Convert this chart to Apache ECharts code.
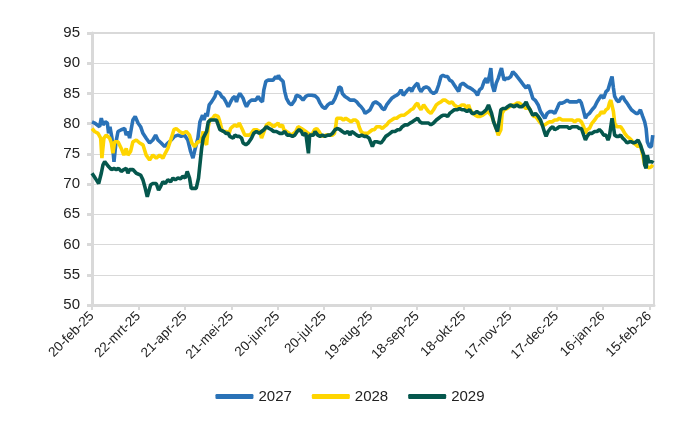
<!DOCTYPE html>
<html>
<head>
<meta charset="utf-8">
<script src="https://cdn.jsdelivr.net/npm/echarts@6/dist/echarts.min.js"></script>
<style>
html,body{margin:0;padding:0;background:#fff;}
#chart{width:700px;height:430px;}
</style>
</head>
<body>
<div id="chart"></div>
<script>
// x = days since 20-feb-25
const tickDays = [0, 30, 60, 90, 120, 150, 180, 210, 240, 270, 300, 330, 360];
const tickLabels = ['20-feb-25','22-mrt-25','21-apr-25','21-mei-25','20-jun-25','20-jul-25','19-aug-25','18-sep-25','18-okt-25','17-nov-25','17-dec-25','16-jan-26','15-feb-26'];
const seriesNames = ['2027', '2028', '2029'];

const days2027 = [0,1.7,2.8,4.9,6.0,7.1,8.6,9.9,10.7,11.6,12.9,14.2,15.5,16.8,18.9,21.1,22.1,23.2,24.3,25.4,26.4,27.9,29.7,31.4,32.9,35.0,37.2,39.3,41.1,42.6,44.7,46.9,49.0,51.2,53.3,55.5,57.6,59.8,61.9,63.7,65.2,66.7,68.4,
69.7,71.4,72.3,73.6,74.4,75.7,77.2,78.3,79.4,80.4,81.5,82.6,83.7,85.2,86.5,88.0,89.5,90.8,92.3,93.3,94.4,95.5,96.6,97.6,98.7,99.8,101.5,103.0,104.1,105.8,107.3,108.8,110.1,111.0,112.3,113.8,115.3,117.0,118.7,119.6,120.4,121.3,122.4,123.4,124.5,125.6,127.3,128.8,129.9,131.0,132.0,133.1,134.2,135.3,136.3,138.1,139.6,141.9,
144.1,145.8,147.3,148.8,150.5,152.3,153.8,155.3,157.0,158.7,159.6,160.9,161.7,163.4,165.2,166.7,167.7,169.5,171.0,172.5,173.8,175.3,176.4,178.1,179.6,180.6,181.7,183.2,184.5,186.0,187.5,188.8,190.3,191.8,193.6,195.3,196.8,198.3,199.6,201.1,202.2,203.9,205.4,206.5,207.5,209.0,210.3,211.2,212.5,
214.2,215.9,217.4,218.9,220.6,222.4,223.9,225.4,226.7,228.2,229.7,231.0,232.5,234.0,235.3,236.8,237.9,239.6,241.1,242.6,244.3,246.0,247.5,249.0,250.3,251.8,253.3,254.6,255.5,256.8,257.6,258.5,259.8,261.1,262.4,263.7,264.5,265.4,266.2,267.5,269.0,270.5,271.8,272.7,274.0,275.5,277.0,278.7,280.4,281.9,283.4,284.7,
286.5,288.2,289.7,291.2,292.5,294.0,295.5,297.2,298.9,300.4,301.9,303.7,305.4,306.9,308.4,310.1,311.8,313.3,314.8,316.1,317.6,318.7,319.8,321.3,323.0,324.7,326.2,327.7,329.0,330.5,332.0,333.3,334.2,335.1,335.9,336.8,337.6,338.9,340.2,341.5,342.8,344.1,345.6,347.1,348.4,349.9,351.4,352.7,354.2,355.7,357.0,357.9,358.7,360.0,361.3,362.2];
const vals2027 = [80.3,80.1,79.8,79.5,80.9,79.8,80.3,80.1,78.4,79.5,77.6,73.7,77.0,78.7,79.0,79.2,78.1,78.7,77.6,79.2,80.6,81.2,80.1,79.5,78.4,77.6,76.8,77.3,78.1,77.3,76.8,76.2,76.8,77.3,77.9,78.1,77.9,78.1,77.3,75.4,74.3,75.9,77.6,
80.3,81.4,80.6,81.7,81.2,83.1,83.6,83.6,84.5,85.3,85.6,85.0,84.5,84.2,83.6,82.8,83.6,84.2,84.5,83.6,84.5,85.0,85.3,84.2,83.4,82.8,83.6,83.9,84.2,83.9,84.5,83.9,83.6,85.6,87.0,87.2,87.2,87.2,87.8,87.4,88.0,87.5,87.5,87.0,85.3,84.2,83.4,83.1,82.8,83.9,84.7,85.0,84.5,84.2,83.9,84.5,84.7,84.7,
84.6,84.2,83.4,82.8,82.5,83.1,83.4,83.4,84.2,85.3,86.1,85.9,85.0,84.5,84.2,83.9,84.2,83.9,83.6,83.1,82.8,82.3,81.7,82.0,82.3,82.5,83.4,83.6,83.4,83.1,82.5,82.3,83.1,83.6,84.2,84.5,84.7,85.0,85.6,84.7,85.0,85.6,85.9,85.3,85.9,86.4,86.7,85.9,85.3,
85.9,86.1,85.9,85.3,85.0,85.3,86.4,87.8,88.0,87.8,87.8,87.2,87.0,86.4,85.9,85.3,86.4,86.7,86.4,86.1,85.9,85.6,85.3,84.7,85.6,85.9,87.0,87.5,86.7,88.0,89.2,86.4,85.3,86.7,87.5,88.6,89.2,88.0,87.2,87.5,87.5,87.8,88.6,88.9,88.0,87.5,87.0,86.4,85.9,86.4,85.3,84.2,
83.8,83.1,82.0,81.4,80.9,81.7,82.0,82.0,81.7,82.5,83.4,83.4,83.6,83.9,83.6,83.6,83.6,83.6,83.9,83.4,82.0,80.9,81.4,81.7,82.3,82.8,83.6,84.2,84.7,84.2,85.3,85.6,86.4,87.2,87.8,85.9,84.5,83.9,83.6,84.2,84.5,83.9,83.4,82.8,82.3,82.0,81.7,81.7,82.3,81.2,80.3,79.2,77.0,76.2,76.2,78.1];

const days2028 = [0,1.7,3.9,5.6,6.4,7.7,9.2,10.3,11.4,12.5,13.5,14.6,16.8,18.9,20.6,22.1,23.2,24.9,26.4,28.6,30.8,32.9,35.0,37.2,39.3,41.5,43.7,45.8,47.3,49.0,51.2,52.9,54.4,56.6,58.7,60.9,63.0,64.5,66.2,68.4,
69.7,70.8,71.8,72.9,74.0,75.1,76.1,77.9,79.4,80.4,81.5,82.6,83.7,84.7,85.8,86.9,88.6,89.5,90.8,92.3,93.8,95.1,95.9,97.2,98.7,99.8,101.5,103.0,104.5,106.2,108.4,109.5,110.5,111.6,112.7,114.4,115.9,117.4,118.7,120.2,121.3,123.0,123.9,125.6,127.3,128.8,129.9,131.6,133.1,134.2,135.3,136.3,138.1,139.6,140.6,
141.9,143.7,145.2,146.7,148.0,149.5,151.0,152.7,153.8,155.3,156.6,157.4,158.1,159.1,160.9,162.4,163.9,165.6,167.3,168.8,170.3,171.6,172.5,173.8,175.3,176.4,178.1,179.6,181.1,182.4,183.9,185.0,186.0,187.5,188.8,190.3,191.8,193.6,195.3,196.8,198.3,200.0,201.7,203.2,204.7,206.0,207.5,209.0,210.3,211.2,212.5,
214.2,215.9,217.4,218.9,220.6,222.4,223.9,225.4,226.7,228.2,229.7,231.0,232.5,234.0,235.7,237.4,238.9,240.4,242.2,243.2,244.3,246.0,247.5,249.0,250.7,252.5,254.0,255.5,256.8,258.3,259.8,261.1,262.4,263.2,264.1,264.9,266.2,268.0,269.7,271.2,272.7,274.4,276.1,277.6,279.1,280.4,281.9,283.4,285.2,
286.5,288.2,289.7,291.2,292.5,294.0,295.5,297.2,298.9,300.4,301.9,303.7,305.4,306.9,308.4,310.1,311.8,313.3,314.8,316.1,317.6,318.7,319.8,321.3,323.0,324.7,326.2,327.7,329.0,330.5,332.0,333.3,334.2,335.1,335.9,336.8,337.6,338.9,340.2,341.5,342.8,344.1,345.6,347.1,348.4,349.9,351.4,352.7,354.2,355.7,357.0,358.5,360.0,361.3,362.2];
const vals2028 = [79.2,78.7,78.4,77.6,74.3,77.6,78.1,78.4,77.6,76.8,75.1,77.0,77.0,75.9,74.8,75.9,74.8,75.4,77.0,77.3,76.8,76.5,74.8,74.0,74.8,74.3,74.8,74.3,75.1,75.9,77.6,79.0,79.2,78.7,78.4,78.7,78.1,76.8,76.2,77.0,
77.0,77.6,78.7,77.0,76.5,79.5,80.6,80.9,81.4,81.7,81.2,80.3,79.2,78.7,78.4,78.7,78.4,79.2,79.5,79.8,79.5,80.1,79.8,79.0,78.1,77.9,78.1,78.4,79.0,79.0,78.7,77.6,77.9,79.0,79.8,80.1,79.8,79.5,79.8,80.1,79.5,79.8,79.0,78.7,78.4,78.1,78.1,78.7,79.5,79.8,79.2,79.0,78.7,78.4,78.4,
78.1,79.0,79.2,78.7,78.1,77.9,78.1,78.1,78.4,78.1,78.4,79.5,80.9,81.2,80.9,80.6,80.9,80.6,80.3,80.6,80.6,80.3,79.5,78.7,78.4,78.1,78.4,78.7,79.0,79.0,79.5,79.8,79.5,79.2,79.5,79.8,80.3,80.6,80.9,80.9,81.2,81.4,81.4,81.7,82.0,82.3,82.5,83.1,83.4,82.8,82.3,
83.1,82.5,82.0,81.7,82.3,83.1,83.4,83.6,83.9,83.9,83.6,83.4,83.6,83.1,82.8,82.8,83.1,83.1,82.5,83.1,82.3,81.7,81.4,81.2,81.2,81.4,81.7,82.0,81.7,81.2,80.1,79.2,78.1,77.9,79.0,81.7,82.3,82.5,82.8,83.1,83.1,83.4,83.4,83.1,82.8,82.5,82.8,82.0,81.2,
81.2,80.6,80.1,79.8,79.8,80.1,80.3,80.3,80.6,80.6,80.9,80.6,80.6,80.6,80.6,80.6,80.3,80.6,80.6,80.3,79.5,78.4,79.0,79.2,80.1,80.6,81.2,81.4,82.0,81.7,82.3,82.5,83.4,83.9,84.2,82.0,80.1,79.5,79.5,79.5,79.0,78.4,77.9,77.6,77.3,76.8,76.5,76.2,76.5,74.8,73.2,72.9,72.7,72.9,73.2];

const days2029 = [0,1.3,2.8,4.3,6.0,7.1,8.2,9.2,10.7,12.5,14.2,15.7,17.2,18.9,20.6,22.1,23.2,24.3,26.4,27.5,28.6,29.7,31.4,32.9,34.4,35.7,36.6,37.9,39.3,41.5,43.0,44.3,45.8,47.3,49.0,50.8,52.3,53.8,55.5,57.2,58.7,60.2,61.5,63.0,64.1,65.8,67.3,68.8,
69.7,70.8,71.8,72.9,74.0,75.1,76.6,78.3,79.4,80.4,81.5,82.6,83.7,85.2,86.5,88.0,89.0,90.1,91.2,92.3,93.8,95.1,96.6,97.6,99.4,100.9,101.9,103.0,104.5,106.2,108.0,109.5,111.0,112.7,114.4,115.9,117.4,119.1,120.2,121.3,123.0,124.5,126.0,127.7,129.5,131.0,132.5,133.8,135.3,136.3,138.1,138.9,139.8,140.6,
143.0,144.1,145.8,147.3,148.8,150.5,152.3,153.8,155.3,157.0,158.7,160.2,161.7,163.4,165.2,166.7,167.7,169.5,171.0,172.5,174.2,175.9,177.4,179.0,180.2,181.1,182.4,183.9,185.0,186.7,188.2,189.7,191.0,192.5,194.0,195.7,197.4,198.9,200.4,202.2,203.9,205.4,206.9,208.6,210.3,211.8,213.3,
214.2,215.9,217.4,218.9,220.6,222.4,223.9,225.4,226.7,228.2,229.7,231.0,232.5,234.0,235.7,237.4,238.9,240.4,242.2,243.9,245.4,246.9,248.6,250.3,251.8,253.3,254.6,256.1,257.2,258.1,259.4,260.6,261.9,262.8,264.1,265.4,266.9,268.4,270.1,271.2,272.7,274.4,276.1,277.6,279.1,280.4,281.7,283.0,284.7,
286.5,288.2,289.7,291.2,292.5,293.3,294.6,296.1,297.6,298.9,300.4,301.9,303.7,305.4,306.9,308.4,310.1,311.8,313.3,314.8,316.1,317.6,318.7,319.8,321.3,323.0,324.7,326.2,327.7,329.0,330.5,332.0,333.3,334.2,335.1,335.9,336.8,337.6,338.9,340.2,341.5,342.8,344.1,345.6,347.1,348.4,349.9,351.4,352.7,354.2,355.3,356.4,357.0,357.9,358.7,359.6,360.6,361.7,362.6];
const vals2029 = [71.8,71.3,70.7,70.1,71.8,73.2,73.7,73.5,72.9,72.4,72.6,72.4,72.6,72.1,72.4,72.6,71.8,72.4,72.4,72.4,71.8,72.1,71.5,70.7,69.3,67.9,68.2,69.9,70.1,70.1,69.0,69.6,70.4,70.1,70.7,70.4,71.0,70.7,71.0,70.9,71.3,71.0,72.1,71.0,69.3,69.3,69.3,71.0,
71.0,75.9,77.6,77.6,78.7,80.3,80.6,80.6,80.9,80.6,79.8,79.0,78.7,78.7,78.4,78.4,77.9,78.1,77.6,78.1,77.9,77.9,77.6,76.8,76.5,76.8,77.0,77.6,78.4,78.7,78.4,78.7,79.0,79.5,79.2,79.0,78.7,78.7,79.0,78.4,78.4,78.7,78.1,78.1,77.9,78.1,78.7,79.0,78.7,78.1,78.4,78.1,75.1,78.1,
78.1,78.7,78.1,77.9,78.1,77.9,78.1,78.1,78.4,79.0,79.2,79.0,78.7,78.4,78.7,78.1,78.7,78.4,78.1,77.9,78.1,77.9,77.9,77.6,77.9,76.2,77.0,77.0,76.8,76.8,77.3,77.9,78.1,78.4,78.7,78.7,79.0,79.0,79.5,79.8,79.8,80.1,80.3,80.6,80.9,80.3,80.1,
79.8,80.1,80.1,79.8,80.1,80.6,80.9,81.2,81.4,81.4,81.2,81.7,82.0,82.3,82.3,82.5,82.3,82.3,82.0,82.3,81.7,81.7,82.0,81.7,81.7,82.0,82.3,83.1,83.4,81.7,80.3,79.5,78.7,79.0,82.3,82.5,82.5,82.8,83.1,83.1,82.8,83.1,82.8,82.8,83.1,83.6,82.8,82.3,81.4,
81.7,81.2,80.6,79.5,78.4,77.9,78.7,79.2,79.5,79.0,79.2,79.5,79.5,79.5,79.5,79.2,79.5,79.5,79.5,79.2,79.2,78.1,77.3,77.9,78.4,78.4,78.7,78.7,79.0,78.7,78.1,78.1,77.3,77.9,79.5,80.9,79.5,78.1,77.9,77.9,78.1,77.6,77.3,76.8,77.0,77.0,76.8,77.0,77.3,76.5,76.2,74.8,73.2,72.6,74.8,73.7,73.5,73.7,73.5];

function zip(d, v) { return d.map((x, i) => [x, v[i]]); }

const chart = echarts.init(document.getElementById('chart'), null, { renderer: 'canvas' });
const FONT = 'Liberation Sans';
const gridColor = '#d9d9d9';

chart.setOption({
  backgroundColor: '#ffffff',
  animation: false,
  color: ['#2a72b7', '#ffd500', '#05574d'],
  textStyle: { fontFamily: FONT },
  grid: {
    left: 92, right: 46, top: 33, bottom: 125,
    show: true, borderColor: gridColor, borderWidth: 2
  },
  legend: {
    data: seriesNames,
    top: 384,
    left: 'center',
    icon: 'roundRect',
    itemWidth: 38,
    itemHeight: 5,
    itemGap: 20,
    textStyle: { fontFamily: FONT, fontSize: 15, color: '#222' }
  },
  xAxis: {
    type: 'value',
    min: 0,
    max: 363,
    axisLine: { show: true, lineStyle: { color: gridColor, width: 3 } },
    axisTick: { show: true, length: 5, lineStyle: { color: gridColor, width: 2 }, customValues: tickDays },
    splitLine: { show: false },
    axisLabel: {
      customValues: tickDays,
      rotate: 45,
      margin: 9,
      fontSize: 13.5,
      color: '#222',
      fontFamily: FONT,
      formatter: function (v) {
        const i = tickDays.indexOf(Math.round(v));
        return i >= 0 ? tickLabels[i] : '';
      }
    }
  },
  yAxis: {
    type: 'value',
    min: 50,
    max: 95,
    interval: 5,
    axisLine: { show: true, lineStyle: { color: gridColor, width: 3 } },
    axisTick: { show: true, length: 5, lineStyle: { color: gridColor, width: 3 } },
    splitLine: { show: true, lineStyle: { color: gridColor, width: 1.2 } },
    axisLabel: { fontSize: 15, color: '#222', margin: 12, fontFamily: FONT }
  },
  series: [
    { name: seriesNames[0], type: 'line', data: zip(days2027, vals2027), showSymbol: false, symbol: 'none', lineStyle: { width: 3.6 } },
    { name: seriesNames[1], type: 'line', data: zip(days2028, vals2028), showSymbol: false, symbol: 'none', lineStyle: { width: 3.6 } },
    { name: seriesNames[2], type: 'line', data: zip(days2029, vals2029), showSymbol: false, symbol: 'none', lineStyle: { width: 3.6 } }
  ]
});
</script>
</body>
</html>
